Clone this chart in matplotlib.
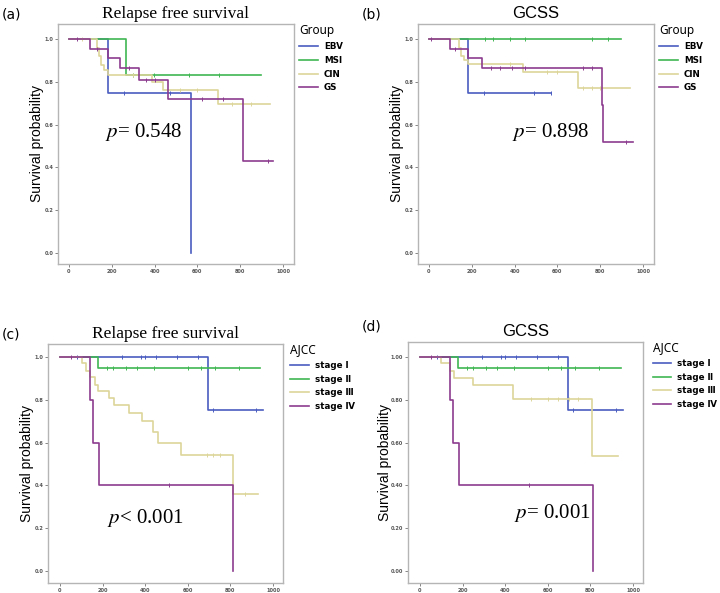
import numpy as np
import matplotlib
matplotlib.use("Agg")
import matplotlib.pyplot as plt
from matplotlib.lines import Line2D

plt.rcParams["mathtext.fontset"] = "stix"

# ---- data (time, survival probability) ----
group_labels = ["EBV", "MSI", "CIN", "GS"]
stage_labels = ["stage \u2160", "stage \u2161", "stage \u2162", "stage \u2163"]

# (a) relapse free survival by group
a_ebv_t = [0, 183, 570]
a_ebv_s = [1.0, 0.75, 0.0]
a_ebv_end = 570
a_ebv_cens = [256, 470]
a_msi_t = [0, 265]
a_msi_s = [1.0, 0.833]
a_msi_end = 895
a_msi_cens = [300, 395, 560, 700]
a_cin_t = [0, 129, 140, 150, 165, 182, 387, 440, 698]
a_cin_s = [1.0, 0.96, 0.92, 0.88, 0.855, 0.83, 0.80, 0.763, 0.698]
a_cin_end = 940
a_cin_cens = [60, 300, 520, 600, 760, 850]
a_gs_t = [0, 100, 183, 237, 328, 461, 811, 815]
a_gs_s = [1.0, 0.955, 0.91, 0.865, 0.81, 0.72, 0.576, 0.431]
a_gs_end = 953
a_gs_cens = [40, 130, 280, 360, 400, 620, 720, 930]

# (b) GCSS by group
b_ebv_t = [0, 183]
b_ebv_s = [1.0, 0.75]
b_ebv_end = 570
b_ebv_cens = [256, 490, 570]
b_msi_t = [0]
b_msi_s = [1.0]
b_msi_end = 895
b_msi_cens = [260, 300, 380, 450, 760, 835]
b_cin_t = [0, 140, 150, 165, 182, 440, 698]
b_cin_s = [1.0, 0.96, 0.92, 0.90, 0.884, 0.845, 0.773]
b_cin_end = 940
b_cin_cens = [380, 550, 600, 720, 760, 800]
b_gs_t = [0, 100, 183, 250, 808, 812]
b_gs_s = [1.0, 0.955, 0.91, 0.866, 0.69, 0.519]
b_gs_end = 953
b_gs_cens = [10, 120, 290, 330, 390, 450, 720, 760, 920]

# (c) relapse free survival by AJCC stage
c_s1_t = [0, 697]
c_s1_s = [1.0, 0.75]
c_s1_end = 951
c_s1_cens = [80, 290, 380, 400, 450, 550, 650, 720, 920]
c_s2_t = [0, 177]
c_s2_s = [1.0, 0.95]
c_s2_end = 939
c_s2_cens = [220, 250, 310, 360, 440, 600, 660, 730, 840]
c_s3_t = [0, 102, 122, 140, 165, 180, 230, 255, 325, 385, 435, 460, 570, 810]
c_s3_s = [1.0, 0.97, 0.935, 0.905, 0.87, 0.84, 0.81, 0.775, 0.74, 0.70, 0.65, 0.60, 0.54, 0.36]
c_s3_end = 930
c_s3_cens = [690, 720, 750, 870]
c_s4_t = [0, 140, 157, 183, 810]
c_s4_s = [1.0, 0.8, 0.6, 0.4, 0.0]
c_s4_end = 810
c_s4_cens = [50, 510]

# (d) GCSS by AJCC stage
d_s1_t = [0, 697]
d_s1_s = [1.0, 0.75]
d_s1_end = 951
d_s1_cens = [80, 290, 380, 400, 450, 550, 650, 720, 920]
d_s2_t = [0, 177]
d_s2_s = [1.0, 0.95]
d_s2_end = 942
d_s2_cens = [220, 250, 310, 360, 440, 600, 660, 730, 840]
d_s3_t = [0, 97, 140, 160, 247, 437, 808]
d_s3_s = [1.0, 0.97, 0.935, 0.90, 0.867, 0.805, 0.537]
d_s3_end = 930
d_s3_cens = [520, 600, 650, 700, 740]
d_s4_t = [0, 140, 157, 183, 810]
d_s4_s = [1.0, 0.8, 0.6, 0.4, 0.0]
d_s4_end = 810
d_s4_cens = [50, 510]

x_ticks = [0, 200, 400, 600, 800, 1000]
y_ticks = [0.0, 0.2, 0.4, 0.6, 0.8, 1.0]
y_labels_short = ["0.0", "0.2", "0.4", "0.6", "0.8", "1.0"]
y_labels_long = ["0.00", "0.20", "0.40", "0.60", "0.80", "1.00"]

colors = ["#4a5cc0", "#3fb651", "#dcd59a", "#8c3c8e"]

W, H = 720, 593


def add_axes_px(fig, left, top, right, bottom):
    return fig.add_axes([left / W, 1 - bottom / H, (right - left) / W, (bottom - top) / H])


def km_step(ax, t, s, end, cens, color):
    xs = list(t) + [end]
    ys = list(s) + [s[-1]]
    ax.step(xs, ys, where="post", color=color, lw=1.2)
    idx = np.searchsorted(np.array(t), np.array(cens), side="right") - 1
    cs = np.array(s)[idx]
    ax.plot(cens, cs, linestyle="none", marker="|", ms=3, mew=0.7, color=color)


def style_axes(ax, xlim, ylim, ylabels, label_off):
    ax.set_xlim(*xlim)
    ax.set_ylim(*ylim)
    ax.set_xticks(x_ticks)
    ax.set_xticklabels([str(v) for v in x_ticks])
    ax.set_yticks(y_ticks)
    ax.set_yticklabels(ylabels)
    ax.tick_params(labelsize=3.6, length=2, width=0.5, colors="#555555", pad=1.5)
    for lab in ax.get_xticklabels() + ax.get_yticklabels():
        lab.set_fontweight("bold")
    for spine in ax.spines.values():
        spine.set_color("#b5b5b5")
        spine.set_linewidth(1.0)
    ax.set_ylabel("Survival probability", fontsize=10, family="Liberation Sans")
    ax.yaxis.set_label_coords(-label_off / 236, 0.5)


def add_legend(ax, title, labels, dx, dy):
    handles = [Line2D([0], [0], color=c, lw=1.2) for c in colors]
    ax.legend(handles, labels, loc="upper left", bbox_to_anchor=(1.0 + dx, dy),
              frameon=False, title=title, alignment="left",
              handlelength=2.1, handletextpad=0.7, labelspacing=0.55,
              prop={"size": 6.3, "weight": "bold", "family": "DejaVu Sans"},
              title_fontproperties={"size": 8.5, "weight": "bold", "family": "Noto Sans"},
              borderaxespad=0.1, borderpad=0.2)


def p_text(ax, x, y, txt):
    ax.text(x, y, txt, transform=ax.transAxes, fontsize=15,
            family="Liberation Serif", va="center")


fig = plt.figure(figsize=(W / 100, H / 100), dpi=100)
fig.patch.set_facecolor("white")

# panel a
ax_a = add_axes_px(fig, 58, 24, 294, 264)
km_step(ax_a, a_ebv_t, a_ebv_s, a_ebv_end, a_ebv_cens, colors[0])
km_step(ax_a, a_msi_t, a_msi_s, a_msi_end, a_msi_cens, colors[1])
km_step(ax_a, a_cin_t, a_cin_s, a_cin_end, a_cin_cens, colors[2])
km_step(ax_a, a_gs_t, a_gs_s, a_gs_end, a_gs_cens, colors[3])
style_axes(ax_a, (-51, 1051), (-0.051, 1.07), y_labels_short, 14)
add_legend(ax_a, "Group", group_labels, 0.012, 1.01)
ax_a.set_title("Relapse free survival", fontsize=12.5, family="Liberation Serif", pad=4)
p_text(ax_a, 0.20, 0.55, "$p$= 0.548")

# panel b
ax_b = add_axes_px(fig, 418, 24, 654, 264)
km_step(ax_b, b_ebv_t, b_ebv_s, b_ebv_end, b_ebv_cens, colors[0])
km_step(ax_b, b_msi_t, b_msi_s, b_msi_end, b_msi_cens, colors[1])
km_step(ax_b, b_cin_t, b_cin_s, b_cin_end, b_cin_cens, colors[2])
km_step(ax_b, b_gs_t, b_gs_s, b_gs_end, b_gs_cens, colors[3])
style_axes(ax_b, (-51, 1051), (-0.051, 1.07), y_labels_short, 14)
add_legend(ax_b, "Group", group_labels, 0.012, 1.01)
ax_b.set_title("GCSS", fontsize=12, family="Liberation Sans", pad=4)
p_text(ax_b, 0.40, 0.55, "$p$= 0.898")

# panel c
ax_c = add_axes_px(fig, 48, 344, 283, 583)
km_step(ax_c, c_s1_t, c_s1_s, c_s1_end, c_s1_cens, colors[0])
km_step(ax_c, c_s2_t, c_s2_s, c_s2_end, c_s2_cens, colors[1])
km_step(ax_c, c_s3_t, c_s3_s, c_s3_end, c_s3_cens, colors[2])
km_step(ax_c, c_s4_t, c_s4_s, c_s4_end, c_s4_cens, colors[3])
style_axes(ax_c, (-56, 1047), (-0.056, 1.06), y_labels_short, 14)
add_legend(ax_c, "AJCC", stage_labels, 0.02, 1.015)
ax_c.set_title("Relapse free survival", fontsize=12.5, family="Liberation Serif", pad=4)
p_text(ax_c, 0.25, 0.27, "$p$< 0.001")

# panel d
ax_d = add_axes_px(fig, 408, 342, 643, 583)
km_step(ax_d, d_s1_t, d_s1_s, d_s1_end, d_s1_cens, colors[0])
km_step(ax_d, d_s2_t, d_s2_s, d_s2_end, d_s2_cens, colors[1])
km_step(ax_d, d_s3_t, d_s3_s, d_s3_end, d_s3_cens, colors[2])
km_step(ax_d, d_s4_t, d_s4_s, d_s4_end, d_s4_cens, colors[3])
style_axes(ax_d, (-56, 1047), (-0.056, 1.07), y_labels_long, 16)
add_legend(ax_d, "AJCC", stage_labels, 0.03, 1.015)
ax_d.set_title("GCSS", fontsize=12, family="Liberation Sans", pad=4)
p_text(ax_d, 0.45, 0.29, "$p$= 0.001")

# panel letters
for lab, x, y in [("(a)", 2, 14), ("(b)", 362, 14), ("(c)", 2, 334), ("(d)", 362, 326)]:
    fig.text(x / W, 1 - y / H, lab, fontsize=10, family="DejaVu Sans", va="center", ha="left")

fig.savefig("out.png", dpi=100)
